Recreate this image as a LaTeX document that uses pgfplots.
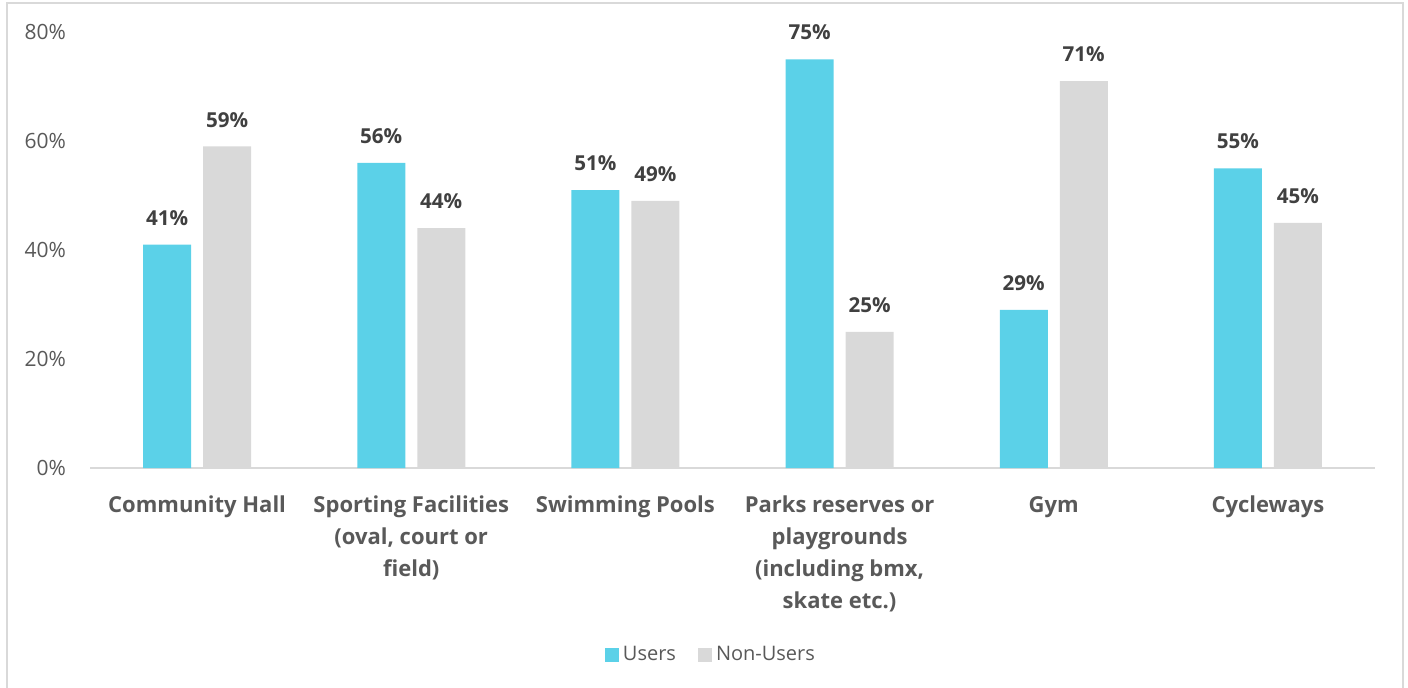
\documentclass[border=0pt]{standalone}
\usepackage{pgfplots}
\pgfplotsset{compat=1.18}
\usepackage{fontspec}
\setmainfont{Open Sans}
\definecolor{users}{HTML}{5BD1E8}
\definecolor{nonusers}{HTML}{D9D9D9}
\definecolor{txt}{HTML}{595959}
\definecolor{lbl}{HTML}{404040}
\begin{document}
\begin{tikzpicture}
\useasboundingbox (-45pt,-109.5pt) rectangle (659pt,234pt);
\draw[color=nonusers, line width=1.2pt] (-41.5pt,-112pt) rectangle (656.5pt,232.5pt);
\begin{axis}[
  at={(0pt,0pt)}, anchor=south west,
  scale only axis, width=642.5pt, height=218pt,
  ymin=0, ymax=80, xmin=-0.5, xmax=5.5,
  ytick={0,20,40,60,80},
  yticklabel={\pgfmathprintnumber{\tick}\%},
  /pgf/number format/assume math mode=true,
  yticklabel style={font=\fontsize{10.5}{12}\selectfont, text=txt, xshift=-8.5pt},
  xtick={0,1,2,3,4,5},
  xticklabels={{Community Hall},{Sporting Facilities\\(oval, court or\\field)},{Swimming Pools},{Parks reserves or\\playgrounds\\(including bmx,\\skate etc.)},{Gym},{Cycleways}},
  xticklabel style={font=\fontsize{11}{16}\selectfont\bfseries, text=txt, align=center, anchor=north, yshift=-10.5pt},
  major tick length=0pt,
  axis lines*=left,
  x axis line style={color=nonusers, line width=1pt, -},
  y axis line style={draw=none},
  ybar, bar width=24pt,
  nodes near coords={\pgfmathprintnumber[fixed,precision=0]{\pgfplotspointmeta}\%},
  every node near coord/.append style={font=\fontsize{10.3}{12}\selectfont\bfseries, text=lbl, yshift=6pt},
  legend style={at={(0.484,-0.429)}, anchor=center, draw=none, legend columns=2,
    font=\fontsize{10}{12}\selectfont, text=txt,
    /tikz/every even column/.append style={column sep=9pt}},
  legend image code/.code={\fill[#1] (0pt,-3.5pt) rectangle (7pt,3.5pt);},
  clip=false,
]
\addplot[fill=users, draw=none, bar shift=-15pt] coordinates {(0,41) (1,56) (2,51) (3,75) (4,29) (5,55)};
\addplot[fill=nonusers, draw=none, bar shift=15pt] coordinates {(0,59) (1,44) (2,49) (3,25) (4,71) (5,45)};
\legend{Users, Non-Users}
\end{axis}
\end{tikzpicture}
\end{document}
